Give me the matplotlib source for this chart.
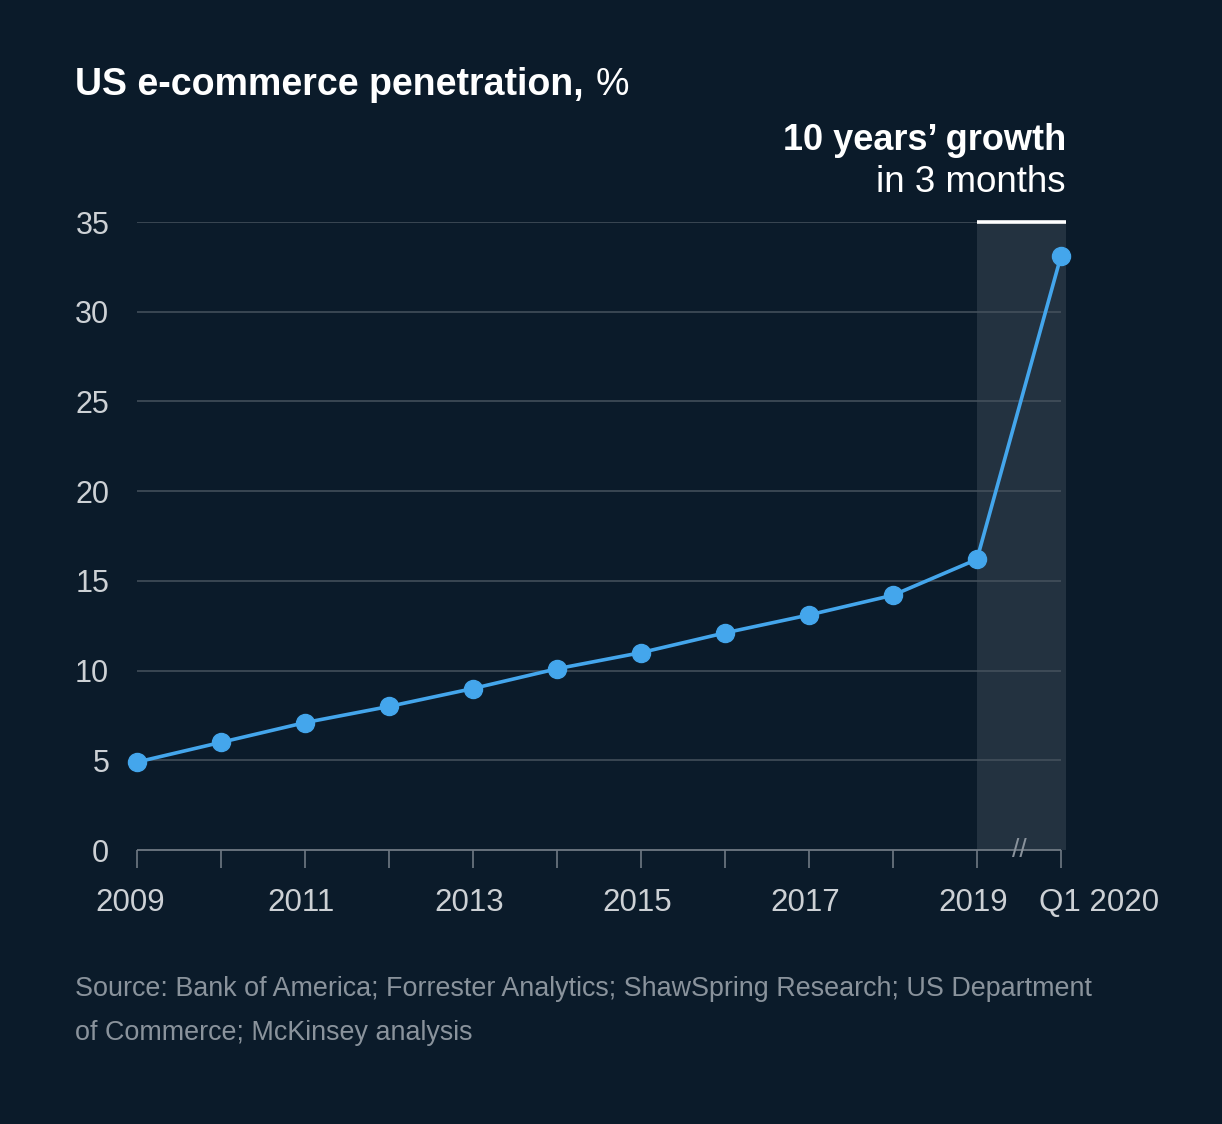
import matplotlib
matplotlib.use("Agg")
import matplotlib.pyplot as plt

# data
years = ["2009", "2010", "2011", "2012", "2013", "2014", "2015",
         "2016", "2017", "2018", "2019", "Q1 2020"]
penetration = [4.9, 6.0, 7.1, 8.0, 9.0, 10.1, 11.0, 12.1, 13.1, 14.2, 16.2, 33.1]
labeled_years = ["2009", "2011", "2013", "2015", "2017", "2019", "Q1 2020"]
y_ticks = [0, 5, 10, 15, 20, 25, 30, 35]

BG = "#0b1b2a"
GRID = "#46525e"
AXIS = "#6f7983"
LABEL = "#cdd1d5"
SOURCE = "#8a939c"
LINE = "#44a6ec"
SHADE = "#233240"

plt.rcParams["font.family"] = ["Liberation Sans", "DejaVu Sans"]

W, H = 1222, 1124
fig = plt.figure(figsize=(W / 100, H / 100), dpi=100, facecolor=BG)

# axes placed in pixel terms: x 137..1066, y 222..850
ax = fig.add_axes([137 / W, (H - 850) / H, 929 / W, 628 / H])
ax.set_facecolor(BG)
xs = list(range(len(years)))
ax.set_xlim(0, 11.06)
ax.set_ylim(0, 35)

# shaded last period and white bar on top
ax.axvspan(10, 11.06, color=SHADE, zorder=0, lw=0)
for y in y_ticks[1:]:
    ax.hlines(y, 0, 11, color=GRID, lw=1.1, zorder=1)
ax.hlines(35, 10, 11.06, color="white", lw=2.6, zorder=3, clip_on=False)

# baseline axis
ax.hlines(0, 0, 11, color=AXIS, lw=1.3, zorder=2, clip_on=False)

ax.plot(xs, penetration, color=LINE, lw=2.6, marker="o", markersize=13,
        zorder=5, clip_on=False)

for s in ax.spines.values():
    s.set_visible(False)

ax.set_yticks(y_ticks)
ax.set_yticklabels([str(v) for v in y_ticks])
ax.tick_params(axis="y", length=0, pad=20, labelsize=22, labelcolor=LABEL)
ax.set_xticks(xs)
ax.set_xticklabels([])
ax.tick_params(axis="x", length=13, width=1.2, color=AXIS, direction="out")

# x labels only for every other year
for x, lab in zip(xs, years):
    if lab not in labeled_years:
        continue
    dx = -7 if lab == "2009" else (38 if lab == "Q1 2020" else -4)
    ax.annotate(lab, xy=(x, 0), xytext=(dx, -38), textcoords="offset pixels",
                ha="center", va="top", fontsize=22.5, color=LABEL,
                annotation_clip=False)

# axis break mark
ax.annotate("//", xy=(10.5, 0), ha="center", va="center", fontsize=19,
            color="#8a939c", annotation_clip=False)

# title
t = fig.text(75 / W, (H - 95) / H, "US e-commerce penetration,", fontsize=27,
             fontweight="bold", color="white", va="baseline", ha="left")
fig.canvas.draw()
bb = t.get_window_extent()
fig.text((bb.x1 + 12) / W, (H - 95) / H, "%", fontsize=27, color="white",
         va="baseline", ha="left")

fig.text(1066 / W, (H - 150) / H, "10 years\u2019 growth", fontsize=26,
         fontweight="bold", color="white", va="baseline", ha="right")
fig.text(1066 / W, (H - 192) / H, "in 3 months", fontsize=26.5,
         color="white", va="baseline", ha="right")

fig.text(75 / W, (H - 996) / H,
         "Source: Bank of America; Forrester Analytics; ShawSpring Research; US Department",
         fontsize=19.4, color=SOURCE, va="baseline", ha="left")
fig.text(75 / W, (H - 1040) / H, "of Commerce; McKinsey analysis",
         fontsize=19.4, color=SOURCE, va="baseline", ha="left")

fig.savefig("out.png", dpi=100, facecolor=BG)
